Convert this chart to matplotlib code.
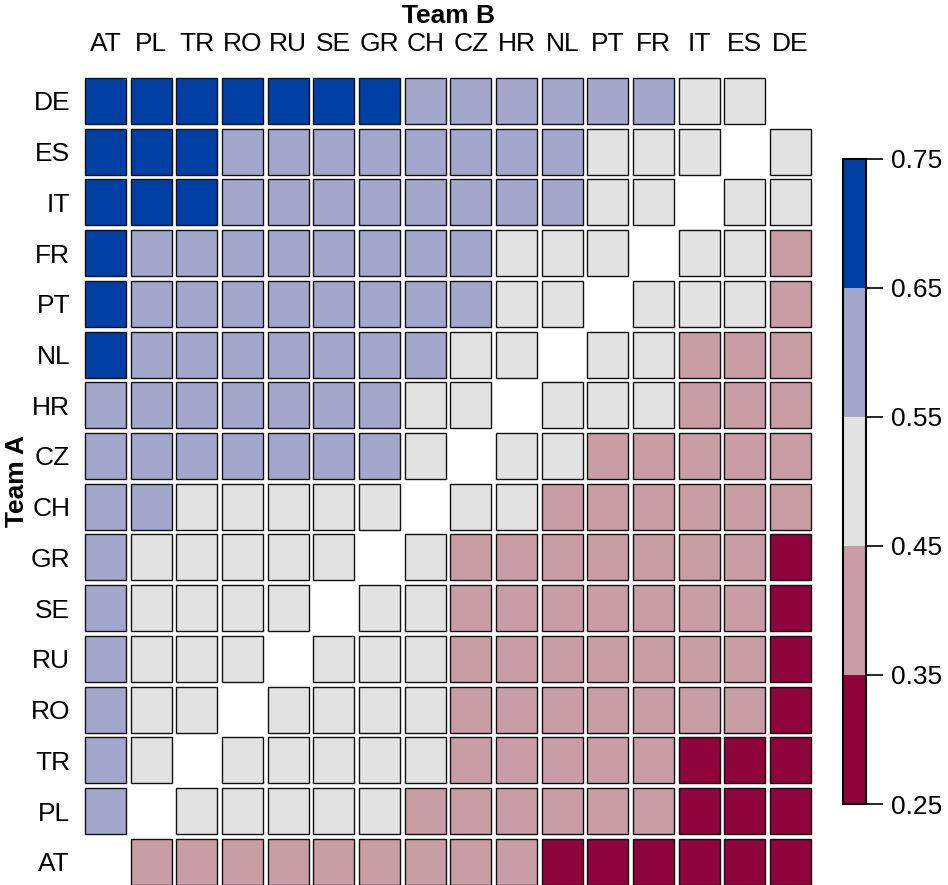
import numpy as np
import matplotlib
matplotlib.use('Agg')
import matplotlib.pyplot as plt
from matplotlib.colors import ListedColormap, BoundaryNorm
from matplotlib.patches import Rectangle
from matplotlib.colorbar import ColorbarBase

plt.rcParams['font.family'] = ['Liberation Sans', 'DejaVu Sans']

team_a = ['DE', 'ES', 'IT', 'FR', 'PT', 'NL', 'HR', 'CZ', 'CH', 'GR', 'SE', 'RU', 'RO', 'TR', 'PL', 'AT']
team_b = ['AT', 'PL', 'TR', 'RO', 'RU', 'SE', 'GR', 'CH', 'CZ', 'HR', 'NL', 'PT', 'FR', 'IT', 'ES', 'DE']

# estimated probabilities (class midpoints), None = same team
N = None
probs = [
    [.70, .70, .70, .70, .70, .70, .70, .60, .60, .60, .60, .60, .60, .50, .50, N],
    [.70, .70, .70, .60, .60, .60, .60, .60, .60, .60, .60, .50, .50, .50, N, .50],
    [.70, .70, .70, .60, .60, .60, .60, .60, .60, .60, .60, .50, .50, N, .50, .50],
    [.70, .60, .60, .60, .60, .60, .60, .60, .60, .50, .50, .50, N, .50, .50, .40],
    [.70, .60, .60, .60, .60, .60, .60, .60, .60, .50, .50, N, .50, .50, .50, .40],
    [.70, .60, .60, .60, .60, .60, .60, .60, .50, .50, N, .50, .50, .40, .40, .40],
    [.60, .60, .60, .60, .60, .60, .60, .50, .50, N, .50, .50, .50, .40, .40, .40],
    [.60, .60, .60, .60, .60, .60, .60, .50, N, .50, .50, .40, .40, .40, .40, .40],
    [.60, .60, .50, .50, .50, .50, .50, N, .50, .50, .40, .40, .40, .40, .40, .40],
    [.60, .50, .50, .50, .50, .50, N, .50, .40, .40, .40, .40, .40, .40, .40, .30],
    [.60, .50, .50, .50, .50, N, .50, .50, .40, .40, .40, .40, .40, .40, .40, .30],
    [.60, .50, .50, .50, N, .50, .50, .50, .40, .40, .40, .40, .40, .40, .40, .30],
    [.60, .50, .50, N, .50, .50, .50, .50, .40, .40, .40, .40, .40, .40, .40, .30],
    [.60, .50, N, .50, .50, .50, .50, .50, .40, .40, .40, .40, .40, .30, .30, .30],
    [.60, N, .50, .50, .50, .50, .50, .40, .40, .40, .40, .40, .40, .30, .30, .30],
    [N, .40, .40, .40, .40, .40, .40, .40, .40, .40, .30, .30, .30, .30, .30, .30],
]

bounds = [0.25, 0.35, 0.45, 0.55, 0.65, 0.75]
colors = ['#8E043B', '#C89DA5', '#E2E2E2', '#A3A7CC', '#0040A4']
cmap = ListedColormap(colors)
norm = BoundaryNorm(bounds, cmap.N)

fig = plt.figure(figsize=(9.48, 8.85), dpi=100)
ax = fig.add_axes([0.0872, -0.0024, 0.7708, 0.917])

gx, gy = 0.10, 0.092
nr = len(team_a)
for i, row in enumerate(probs):
    y = nr - 1 - i
    for j, v in enumerate(row):
        if v is None:
            continue
        ax.add_patch(Rectangle((j + gx / 2, y + gy / 2), 1 - gx, 1 - gy,
                               facecolor=cmap(norm(v)), edgecolor='#111111', linewidth=1.0))

ax.set_xlim(0, len(team_b))
ax.set_ylim(0, nr)
ax.set_xticks(np.arange(len(team_b)) + 0.5)
ax.set_xticklabels(team_b, fontsize=19)
ax.set_yticks(np.arange(nr) + 0.5)
ax.set_yticklabels(team_a[::-1], fontsize=19)
ax.xaxis.tick_top()
ax.tick_params(axis='x', length=0, pad=14)
ax.tick_params(axis='y', length=0, pad=9)
for s in ax.spines.values():
    s.set_visible(False)

fig.text(0.473, 0.982, 'Team B', ha='center', va='center', fontsize=19, fontweight='bold')
fig.text(0.018, 0.457, 'Team A', ha='center', va='center', rotation=90, fontsize=19, fontweight='bold')

cax = fig.add_axes([0.889, 0.0915, 0.0243, 0.729])
cb = ColorbarBase(cax, cmap=cmap, norm=norm, boundaries=bounds, ticks=bounds)
cb.set_ticklabels(['0.25', '0.35', '0.45', '0.55', '0.65', '0.75'])
cb.outline.set_linewidth(1.5)
cax.tick_params(length=12, width=1.2, pad=6, labelsize=19)

fig.savefig('out.png', dpi=100)
